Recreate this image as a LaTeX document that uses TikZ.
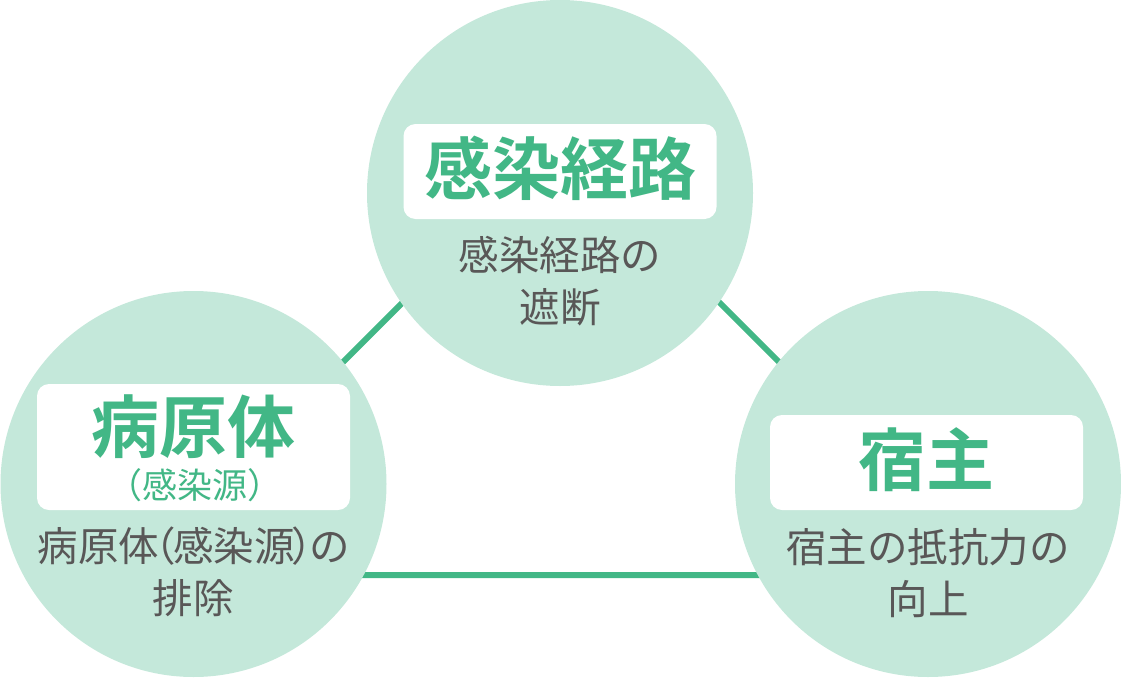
\documentclass[tikz,border=0pt]{standalone}
\usepackage{fontspec}
\usepackage{xcolor}
\usepackage{tikz}
\usetikzlibrary{positioning}
\newfontfamily\cjk[BoldFont=* Bold]{Noto Sans CJK JP}
\newfontfamily\cjkh[RawFeature=+halt]{Noto Sans CJK JP}
\definecolor{mintFill}{RGB}{196, 232, 218}
\definecolor{leafGreen}{RGB}{66, 183, 134}
\definecolor{textGray}{RGB}{89, 87, 87}
\newcommand{\narrowparen}[2][0pt]{\kern#1{\cjkh #2}\kern#1}

\begin{document}
\begin{tikzpicture}[x=1pt, y=-1pt,
    bubble/.style={circle, fill=mintFill, minimum size=386pt, inner sep=0pt},
    tagbox/.style={fill=white, rounded corners=12pt, minimum width=313pt, inner sep=0pt},
    title/.style={text=leafGreen, font=\cjk\bfseries\fontsize{68}{80}\selectfont, inner sep=0pt},
    note/.style={text=textGray, align=center, font=\cjk\fontsize{40.5}{52}\selectfont, inner sep=0pt}]
        \useasboundingbox (0,0) rectangle (1121,677);

        \coordinate (T) at (561,144);
        \coordinate (L) at (130,575);
        \coordinate (R) at (992,575);
        \draw[line width=6pt, leafGreen] (L)--(T)--(R)--cycle;

        \node[bubble] (route) at (560,193) {};
        \node[bubble] (source) at (193.5,484) {};
        \node[bubble] (host) at (928,484) {};

        \node[tagbox, minimum height=95pt] (routeTag) at (560,171.5) {};
        \node[tagbox, minimum height=126pt] (sourceTag) at (193.5,447) {};
        \node[tagbox, minimum height=95pt] (hostTag) at (926.5,462.5) {};

        \node[title] (routeTitle) at (560,168) {感染経路};
        \node[title] (sourceTitle) at (193.5,427) {病原体};
        \node[title, font=\cjk\fontsize{35}{38}\selectfont] (sourceSub) at (195,485)
            {\narrowparen{（}感染源\narrowparen{）}};
        \node[title] (hostTitle) at (926.5,460) {宿主};

        \node[note] (routeNote) at (560,281) {感染経路の\\遮断};
        \node[note] (sourceNote) at (193.5,572)
            {病原体\narrowparen[-3pt]{（}感染源\narrowparen[-3pt]{）}の\\排除};
        \node[note] (hostNote) at (928,573) {宿主の抵抗力の\\向上};
    \end{tikzpicture}
\end{document}
